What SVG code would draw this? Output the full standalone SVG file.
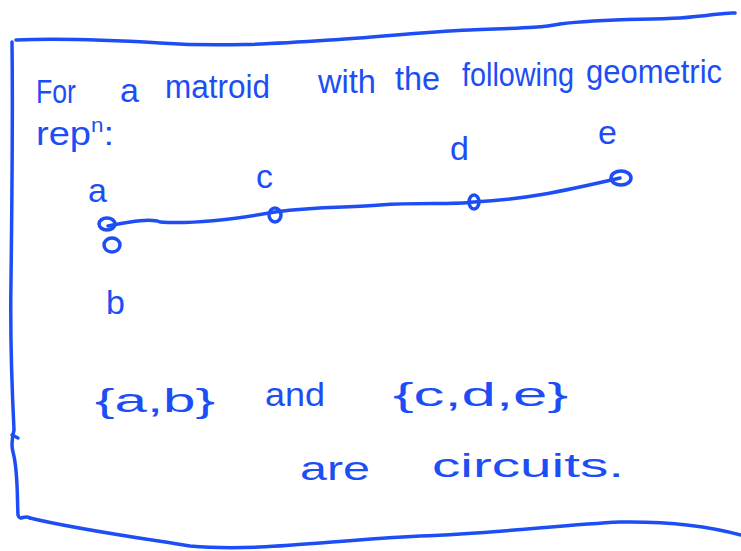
<svg xmlns="http://www.w3.org/2000/svg" width="741" height="551" viewBox="0 0 741 551">
<style>
.ink{fill:none;stroke:#1d4ef5;stroke-width:3.5;stroke-linecap:round;stroke-linejoin:round}
.t{fill:#1d4ef5;font-family:"Liberation Sans","DejaVu Sans",sans-serif;font-size:34px}
.pt{fill:none;stroke:#1d4ef5;stroke-width:3.5}
</style>
<rect width="741" height="551" fill="#ffffff"/>
<g id="frame">
<path class="ink" d="M16,40 C60,38 110,40 160,43 C220,47 270,44 330,40 C380,37 420,32 470,30 C520,28 540,28 560,24 C600,19 640,20 680,18 C710,16 725,12 735,13"/>
<path class="ink" d="M12,42 C13,120 12,200 11,280 C10,340 12,390 14,430 C12,438 11,445 13,452 C18,470 17,495 18,515 C20,522 24,514 30,518"/>
<path class="ink" d="M30,518 C70,528 120,535 190,546 C260,552 330,540 420,536 C500,533 560,525 620,522 C680,521 715,528 741,535"/>
<path class="ink" d="M12,435 L18,438"/>
</g>
<g id="title">
<text class="t" x="36" y="103" textLength="40" lengthAdjust="spacingAndGlyphs">For</text>
<text class="t" x="120" y="102">a</text>
<text class="t" x="165" y="98" textLength="105" lengthAdjust="spacingAndGlyphs">matroid</text>
<text class="t" x="318" y="93" textLength="58" lengthAdjust="spacingAndGlyphs">with</text>
<text class="t" x="395" y="90" textLength="45" lengthAdjust="spacingAndGlyphs">the</text>
<text class="t" x="462" y="86" textLength="112" lengthAdjust="spacingAndGlyphs">following</text>
<text class="t" x="586" y="83" textLength="136" lengthAdjust="spacingAndGlyphs">geometric</text>
<text class="t" x="36" y="145" textLength="78" lengthAdjust="spacingAndGlyphs">rep<tspan font-size="20" dy="-13">n</tspan><tspan dy="13">:</tspan></text>
</g>
<g id="connectors">
<path class="ink" d="M108,226 C130,222 150,218 160,222 C190,224 230,220 275,212 C320,206 350,208 380,205 C420,202 450,205 474,202 C520,200 560,192 620,178"/>
</g>
<g id="node-a">
<text class="t" x="88" y="202" font-size="38">a</text>
<ellipse class="pt" cx="107" cy="224" rx="8" ry="6"/>
</g>
<g id="node-b">
<ellipse class="pt" cx="112" cy="245" rx="8" ry="7"/>
<text class="t" x="106" y="314" font-size="38">b</text>
</g>
<g id="node-c">
<text class="t" x="256" y="188" font-size="38">c</text>
<ellipse class="pt" cx="275" cy="215" rx="6" ry="7"/>
</g>
<g id="node-d">
<text class="t" x="450" y="160" font-size="44">d</text>
<ellipse class="pt" cx="474" cy="202" rx="5" ry="7"/>
</g>
<g id="node-e">
<text class="t" x="598" y="144" font-size="44">e</text>
<ellipse class="pt" cx="621" cy="178" rx="10" ry="7"/>
</g>
<g id="circuits-text">
<text class="t" x="95" y="412" font-size="38" textLength="120" lengthAdjust="spacingAndGlyphs">{a,b}</text>
<text class="t" x="265" y="406" font-size="38" textLength="60" lengthAdjust="spacingAndGlyphs">and</text>
<text class="t" x="393" y="406" font-size="38" textLength="175" lengthAdjust="spacingAndGlyphs">{c,d,e}</text>
<text class="t" x="300" y="480" font-size="38" textLength="70" lengthAdjust="spacingAndGlyphs">are</text>
<text class="t" x="432" y="477" font-size="38" textLength="192" lengthAdjust="spacingAndGlyphs">circuits.</text>
</g>
</svg>
